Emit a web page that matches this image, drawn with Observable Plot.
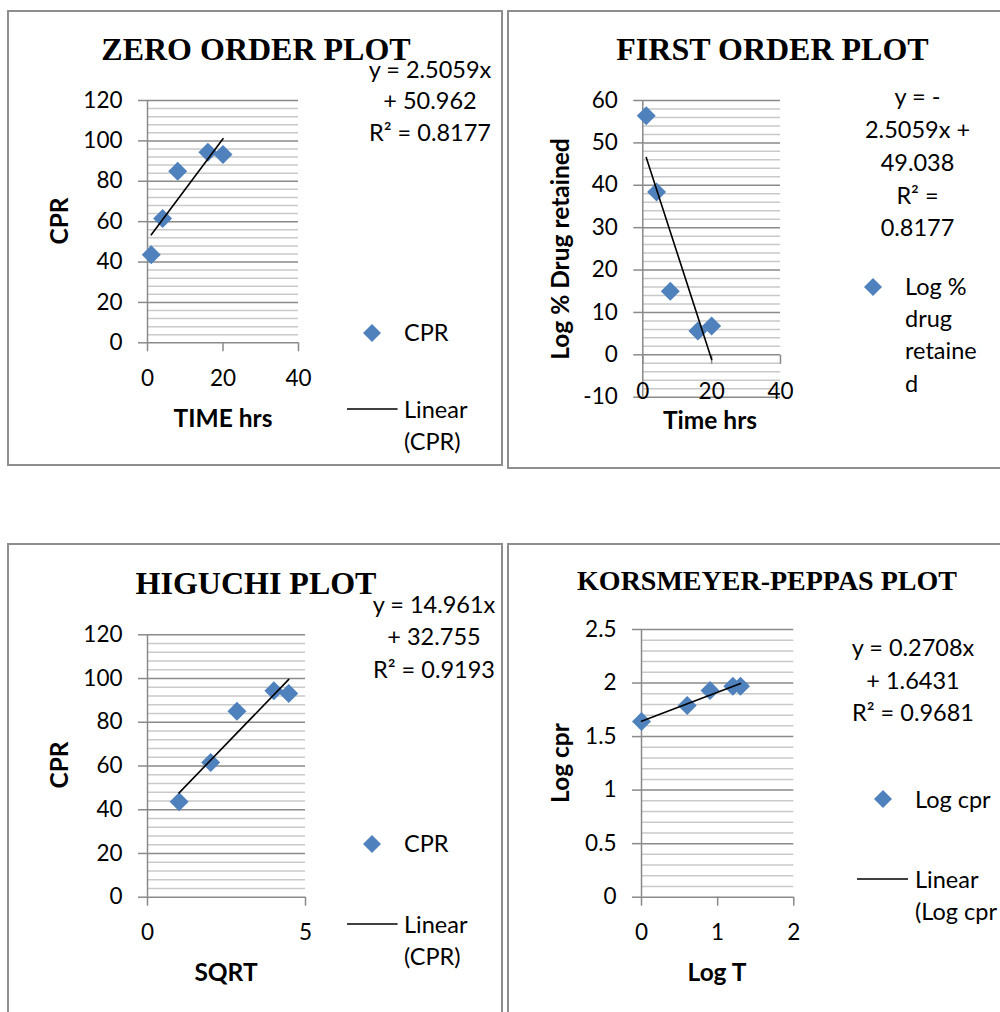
<!DOCTYPE html>
<html>
<head>
<meta charset="utf-8">
<script src="https://cdn.jsdelivr.net/npm/d3@7"></script>
<script src="https://cdn.jsdelivr.net/npm/@observablehq/plot@0.6"></script>
<style>
  html, body { margin: 0; padding: 0; background: #fff; overflow: hidden; }
  #page { position: relative; width: 1000px; height: 1012px; overflow: hidden; background: #fff;
          font-family: Lato, "Open Sans", sans-serif; color: #000; }
  .panel { position: absolute; box-sizing: border-box; border: 2px solid #8e8e8e; }
  .txt { position: absolute; white-space: nowrap; line-height: 1; font-size: 23.5px; }
  .title { font-family: "Liberation Serif", "Times New Roman", serif; font-weight: bold; }
  .bold { font-weight: bold; font-size: 24.5px; }
  .plotbox { position: absolute; }
  .swatch { position: absolute; overflow: visible; }
</style>
</head>
<body>
<div id="page"></div>
<script>
// ---- release data (hours, cumulative % released) ----
const hours        = [1, 4, 8, 16, 20];
const cpr          = [43.6, 61.6, 85.0, 94.4, 93.2];
const drugRetained = [56.4, 38.4, 15.0, 5.6, 6.8];
const sqrtHours    = [1, 2, 2.83, 4, 4.47];
const logHours     = [0, 0.6, 0.9, 1.2, 1.3];
const logCpr       = [1.64, 1.79, 1.93, 1.97, 1.97];

// ---- fitted trend lines: slope, intercept, R² ----
const zeroFit    = [2.5059, 50.962, 0.8177];
const firstFit   = [-2.5059, 49.038, 0.8177];
const higuchiFit = [14.961, 32.755, 0.9193];
const peppasFit  = [0.2708, 1.6431, 0.9681];

// ---- axis ticks ----
const zeroYTicks    = [0, 20, 40, 60, 80, 100, 120];
const zeroXTicks    = [0, 20, 40];
const firstYTicks   = [-10, 0, 10, 20, 30, 40, 50, 60];
const firstXTicks   = [0, 20, 40];
const higuchiYTicks = [0, 20, 40, 60, 80, 100, 120];
const higuchiXTicks = [0, 5];
const peppasYTicks  = [0, 0.5, 1, 1.5, 2, 2.5];
const peppasXTicks  = [0, 1, 2];

const BLUE = "#4f81bd";
const MAJOR = "#8a8a8a";
const MINOR = "#c9c9c9";

// square marker turned on its corner
const diamond = {
  draw(ctx, size) {
    const r = Math.sqrt(size / Math.PI);
    ctx.moveTo(0, -r); ctx.lineTo(r, 0); ctx.lineTo(0, r); ctx.lineTo(-r, 0); ctx.closePath();
  }
};
// short tick hanging below an axis drawn through y = 0
const tickDown = {
  draw(ctx, size) {
    const l = Math.sqrt(size / Math.PI);
    ctx.moveTo(0, 0); ctx.lineTo(0, l);
  }
};

const page = document.getElementById("page");

function text(str, x, y, opts = {}) {
  const el = document.createElement("div");
  el.className = "txt" + (opts.cls ? " " + opts.cls : "");
  el.textContent = str;
  el.style.left = x + "px";
  el.style.top = y + "px";
  if (opts.size) el.style.fontSize = opts.size + "px";
  const align = opts.align || "center";
  let t = align === "left" ? "translate(0,-50%)" : "translate(-50%,-50%)";
  if (opts.rotate) t += " rotate(-90deg)";
  el.style.transform = t;
  page.appendChild(el);
}

function legendDiamond(cx, cy) {
  const s = d3.create("svg").attr("class", "swatch")
    .attr("width", 20).attr("height", 20)
    .style("left", (cx - 10) + "px").style("top", (cy - 10) + "px");
  s.append("path").attr("d", "M10,1L19,10L10,19L1,10Z").attr("fill", BLUE);
  page.appendChild(s.node());
}
function legendLine(x1, x2, y) {
  const s = d3.create("svg").attr("class", "swatch")
    .attr("width", x2 - x1).attr("height", 4)
    .style("left", x1 + "px").style("top", (y - 2) + "px");
  s.append("line").attr("x1", 0).attr("x2", x2 - x1).attr("y1", 2).attr("y2", 2)
    .attr("stroke", "#000").attr("stroke-width", 1.6);
  page.appendChild(s.node());
}

function panelBox(l, t, r, b) {
  const el = document.createElement("div");
  el.className = "panel";
  el.style.left = l + "px"; el.style.top = t + "px";
  el.style.width = (r - l) + "px"; el.style.height = (b - t) + "px";
  page.appendChild(el);
}

function chart(p) {
  // p.box: svg area on the page; p.frame: plotting area on the page
  const [bl, bt, br, bb] = p.box;
  const [fl, ft, fr, fb] = p.frame;
  const xs = p.x, ys = p.y;
  const points = xs.map((x, i) => ({x, y: ys[i]}));
  const [m, c] = p.fit;
  const trend = d3.extent(xs).map(x => ({x, y: m * x + c}));
  const [y0, y1] = p.yDomain;
  const minor = d3.range(y0, y1 + p.minorStep / 2, p.minorStep)
    .map(v => +v.toFixed(6))
    .filter(v => !p.yTicks.some(t => Math.abs(t - v) < 1e-6));

  const marks = [
    Plot.ruleY(minor, {stroke: MINOR, strokeWidth: 1.5}),
    Plot.ruleY(p.yTicks, {stroke: MAJOR, strokeWidth: 1.5}),
    Plot.ruleX([0], {stroke: MAJOR, strokeWidth: 1.5}),
    Plot.axisY(p.yTicks, {tickSize: 9, tickPadding: 16, stroke: MAJOR, strokeWidth: 1.5,
      fill: "#000", tickFormat: d => String(d), label: null})
  ];
  if (p.axisAtZero) {
    marks.push(
      Plot.dot(p.xTicks, {x: d => d, y: () => 0, symbol: tickDown, r: 9,
        stroke: MAJOR, strokeWidth: 1.5, fill: "none"}),
      Plot.axisX(p.xTicks, {tickSize: 0, tickPadding: -14, fill: "#000",
        tickFormat: d => String(d), label: null})
    );
  } else {
    marks.push(Plot.axisX(p.xTicks, {tickSize: 9, tickPadding: 18, stroke: MAJOR, strokeWidth: 1.5,
      fill: "#000", tickFormat: d => String(d), label: null}));
  }
  marks.push(
    Plot.dot(points, {x: "x", y: "y", symbol: diamond, r: 9.5, fill: BLUE}),
    Plot.line(trend, {x: "x", y: "y", stroke: "#000", strokeWidth: 1.6})
  );

  const svg = Plot.plot({
    width: br - bl, height: bb - bt,
    marginLeft: fl - bl, marginRight: br - fr, marginTop: ft - bt, marginBottom: bb - fb,
    x: {domain: p.xDomain},
    y: {domain: p.yDomain},
    style: {fontFamily: "Lato, 'Open Sans', sans-serif", fontSize: "22.5px", color: "#000",
            background: "transparent", maxWidth: "none", overflow: "visible"},
    marks
  });
  const wrap = document.createElement("div");
  wrap.className = "plotbox";
  wrap.style.left = bl + "px"; wrap.style.top = bt + "px";
  wrap.appendChild(svg);
  page.appendChild(wrap);
}

// ---------- panel frames ----------
panelBox(7, 10, 503, 466);
panelBox(507, 10, 1040, 469);
panelBox(7, 543, 503, 1040);
panelBox(507, 543, 1040, 1040);

// ---------- Zero order ----------
chart({box: [9, 12, 501, 464], frame: [147, 100, 298, 342.3],
  x: hours, y: cpr, fit: zeroFit, xDomain: [0, 40], yDomain: [0, 120],
  xTicks: zeroXTicks, yTicks: zeroYTicks, minorStep: 4});
[`y = ${zeroFit[0]}x`, `+ ${zeroFit[1]}`, `R² = ${zeroFit[2]}`]
  .forEach((s, i) => text(s, 430, [70, 101, 133][i]));
text("ZERO ORDER PLOT", 256, 49, {cls: "title", size: 32});
text("CPR", 59, 221, {cls: "bold", rotate: true});
text("TIME hrs", 223, 418, {cls: "bold"});
legendDiamond(372.3, 333.3);
text("CPR", 404, 333.3, {align: "left"});
legendLine(346.7, 397.3, 409.3);
text("Linear", 404, 410, {align: "left"});
text("(CPR)", 404, 442, {align: "left"});

// ---------- First order ----------
chart({box: [509, 12, 1000, 467], frame: [642.3, 100, 780, 396.7],
  x: hours, y: drugRetained, fit: firstFit, xDomain: [0, 40], yDomain: [-10, 60],
  xTicks: firstXTicks, yTicks: firstYTicks, minorStep: 2, axisAtZero: true});
text("FIRST ORDER PLOT", 772.5, 49, {cls: "title", size: 32});
["y = -", `${Math.abs(firstFit[0])}x +`, `${firstFit[1]}`, "R² =", `${firstFit[2]}`]
  .forEach((s, i) => text(s, 917.5, [97, 129.5, 162.5, 195.5, 228][i]));
text("Log % Drug retained", 560, 249, {cls: "bold", rotate: true});
text("Time hrs", 710, 420, {cls: "bold"});
legendDiamond(873.3, 286.7);
["Log %", "drug", "retaine", "d"]
  .forEach((s, i) => text(s, 905, [286.7, 319, 351.3, 383.6][i], {align: "left"}));

// ---------- Higuchi ----------
chart({box: [9, 545, 501, 1012], frame: [147, 634.3, 305, 896.7],
  x: sqrtHours, y: cpr, fit: higuchiFit, xDomain: [0, 5], yDomain: [0, 120],
  xTicks: higuchiXTicks, yTicks: higuchiYTicks, minorStep: 4});
text("HIGUCHI PLOT", 256, 583.3, {cls: "title", size: 32});
[`y = ${higuchiFit[0]}x`, `+ ${higuchiFit[1]}`, `R² = ${higuchiFit[2]}`]
  .forEach((s, i) => text(s, 434, [604.7, 637, 669.7][i]));
text("CPR", 59, 765, {cls: "bold", rotate: true});
text("SQRT", 226, 971.7, {cls: "bold"});
legendDiamond(371.7, 844);
text("CPR", 404, 844, {align: "left"});
legendLine(346.7, 397.3, 924.3);
text("Linear", 404, 925, {align: "left"});
text("(CPR)", 404, 957, {align: "left"});

// ---------- Korsmeyer-Peppas ----------
chart({box: [509, 545, 1000, 1012], frame: [641, 629, 793.3, 896.7],
  x: logHours, y: logCpr, fit: peppasFit, xDomain: [0, 2], yDomain: [0, 2.5],
  xTicks: peppasXTicks, yTicks: peppasYTicks, minorStep: 0.1});
text("KORSMEYER-PEPPAS PLOT", 767, 581, {cls: "title", size: 28});
[`y = ${peppasFit[0]}x`, `+ ${peppasFit[1]}`, `R² = ${peppasFit[2]}`]
  .forEach((s, i) => text(s, 913, [648.3, 681, 713.3][i]));
text("Log cpr", 560, 762.5, {cls: "bold", rotate: true});
text("Log T", 717, 971.7, {cls: "bold"});
legendDiamond(883.3, 799.3);
text("Log cpr", 915, 799.5, {align: "left"});
legendLine(857.3, 908.3, 879);
text("Linear", 915, 879.5, {align: "left"});
text("(Log cpr", 915, 912.3, {align: "left"});
</script>
</body>
</html>
